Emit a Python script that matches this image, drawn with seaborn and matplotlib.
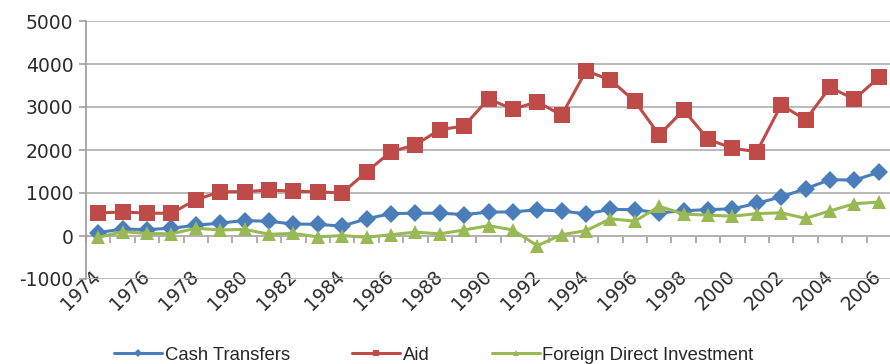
import numpy as np
import pandas as pd
import matplotlib
matplotlib.use("Agg")
import matplotlib.pyplot as plt
import seaborn as sns

years = list(range(1974, 2007))
cash_transfers = [80, 160, 150, 180, 250, 300, 360, 340, 280, 270, 230, 400, 520, 530, 530,
                  500, 555, 560, 610, 580, 515, 620, 610, 540, 585, 615, 630, 760, 910, 1100,
                  1310, 1300, 1480]
aid = [535, 560, 530, 530, 840, 1030, 1030, 1070, 1040, 1030, 1000, 1490, 1960, 2120, 2470,
       2560, 3190, 2950, 3120, 2810, 3840, 3630, 3130, 2350, 2930, 2250, 2040, 1960, 3050,
       2700, 3460, 3180, 3690]
fdi = [-30, 100, 60, 50, 180, 140, 155, 40, 60, -20, 10, -30, 30, 90, 50, 140, 240, 140,
       -225, 30, 125, 400, 345, 690, 510, 485, 460, 520, 540, 410, 585, 750, 790]

series_names = ["Cash Transfers", "Aid", "Foreign Direct Investment"]
y_ticks = [-1000, 0, 1000, 2000, 3000, 4000, 5000]

colors = {"Cash Transfers": "#4a7ebb", "Aid": "#be4b48", "Foreign Direct Investment": "#98b954"}
markers = {"Cash Transfers": "D", "Aid": "s", "Foreign Direct Investment": "^"}

idx = np.arange(len(years))
df = pd.concat([
    pd.DataFrame({"pos": idx, "value": vals, "series": name})
    for name, vals in zip(series_names, [cash_transfers, aid, fdi])
], ignore_index=True)

sns.set_style("white")
plt.rcParams["font.family"] = ["DejaVu Sans"]

fig = plt.figure(figsize=(8.9, 3.64), dpi=100)
ax = fig.add_axes([86 / 890, 1 - 279 / 364, (891 - 86) / 890, (279 - 21) / 364])

sns.lineplot(data=df, x="pos", y="value", hue="series", style="series",
             hue_order=series_names, style_order=series_names,
             palette=colors, markers=markers, dashes=False,
             linewidth=2.2, markeredgewidth=0, ax=ax, legend=True)

sizes = {"Cash Transfers": 9, "Aid": 11, "Foreign Direct Investment": 10.5}
for line, name in zip(ax.lines, series_names):
    line.set_markersize(sizes[name])

ax.set_xlim(-0.5, len(years) - 0.5)
ax.set_ylim(-1000, 5000)
ax.set_yticks(y_ticks)
ax.set_yticklabels([str(v) for v in y_ticks])
ax.yaxis.grid(True, color="#b4b4b4", linewidth=1.3)
ax.set_axisbelow(True)
ax.set_xlabel("")
ax.set_ylabel("")

for side in ["top", "right", "bottom"]:
    ax.spines[side].set_visible(False)
ax.spines["left"].set_color("#a0a0a0")
ax.spines["left"].set_linewidth(1.3)
ax.tick_params(axis="y", direction="out", length=5, width=1.2, color="#a0a0a0",
               labelsize=13.5, labelcolor="#2b2b2b", pad=4, left=True)

# year labels along the bottom, every other year
label_pos = idx[::2]
ax.set_xticks(label_pos)
ax.set_xticklabels([str(years[i]) for i in label_pos], rotation=45, ha="right",
                   va="center", rotation_mode="anchor")
ax.tick_params(axis="x", length=0, labelsize=13.5, labelcolor="#2b2b2b", pad=-4)

# category axis line at zero with boundary tick marks
zero_frac = (0 - y_ticks[0]) / (y_ticks[-1] - y_ticks[0])
sec = ax.secondary_xaxis(zero_frac)
sec.set_xticks(np.arange(-0.5, len(years), 1.0))
sec.set_xticklabels([])
sec.tick_params(direction="out", length=5, width=1.2, color="#a0a0a0")
sec.spines["bottom"].set_color("#a0a0a0")
sec.spines["bottom"].set_linewidth(1.3)

handles, labels = ax.get_legend_handles_labels()
if ax.legend_ is not None:
    ax.legend_.remove()
fig.legend(handles, labels, loc="center", bbox_to_anchor=(434 / 890, 1 - 355 / 364),
           ncol=3, frameon=False, handlelength=2.6, handletextpad=0.12,
           columnspacing=3.4, markerscale=0.75, borderpad=0.1,
           prop={"family": "Liberation Sans", "size": 13.3})

fig.savefig("out.png", dpi=100, facecolor="white")
